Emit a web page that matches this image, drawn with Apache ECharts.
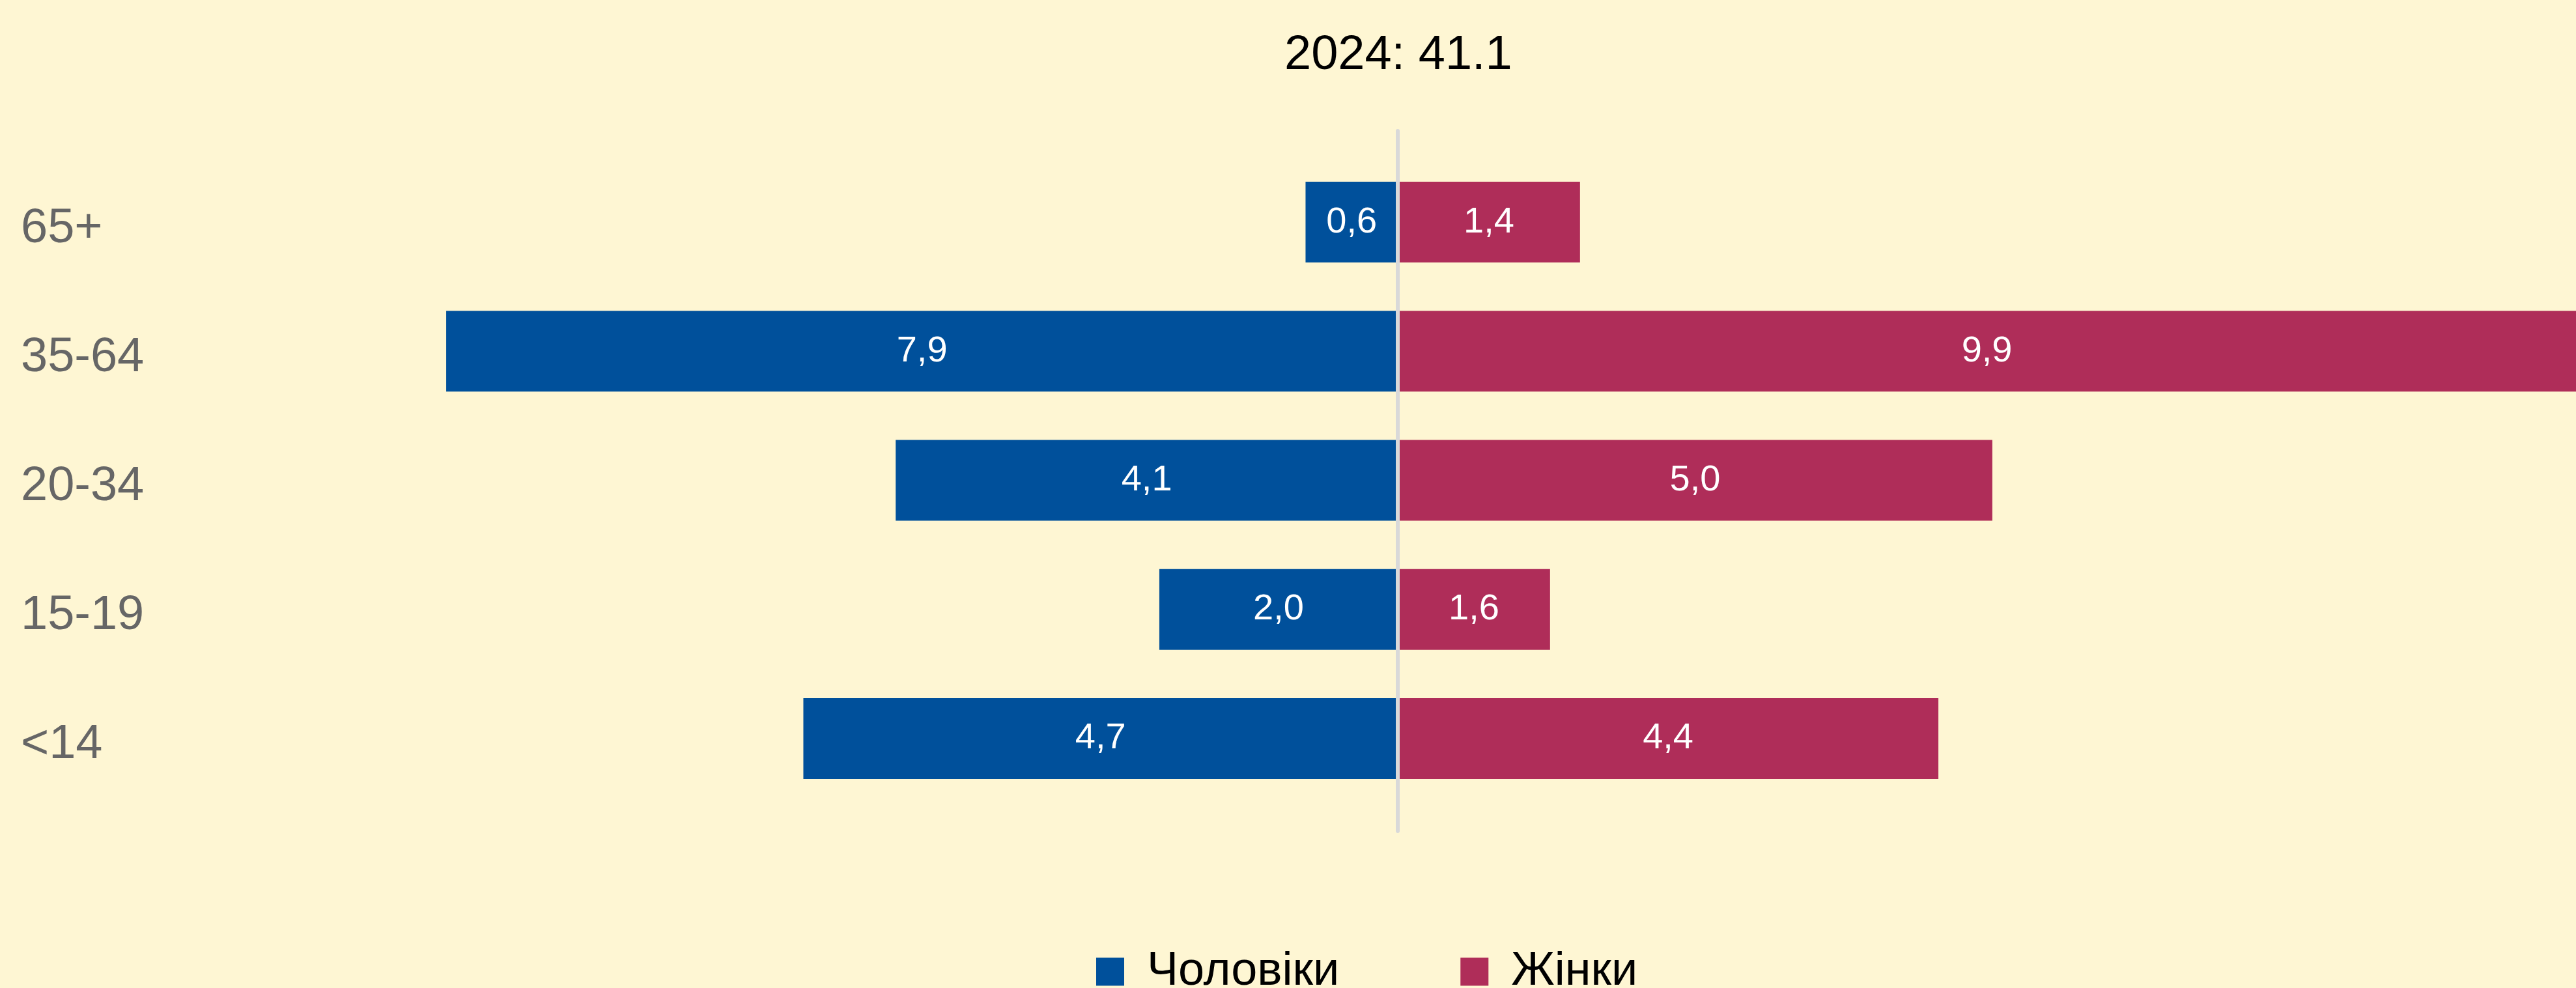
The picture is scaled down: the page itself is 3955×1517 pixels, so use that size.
<!DOCTYPE html>
<html>
<head>
<meta charset="utf-8">
<script src="https://cdn.jsdelivr.net/npm/echarts@6/dist/echarts.min.js"></script>
<style>
  html, body { margin: 0; padding: 0; background: #fef6d3; }
  #chart { width: 3955px; height: 1517px; }
</style>
</head>
<body>
<div id="chart"></div>
<script>
// вікові групи (знизу вгору)
const categories = ['<14', '15-19', '20-34', '35-64', '65+']
// довжини смуг, як їх видно на малюнку
const men = [4.96, 1.99, 4.19, 7.94, 0.77]
const women = [4.51, 1.27, 4.96, 9.9, 1.52]
// підписи всередині смуг
const menLabels = ['4,7', '2,0', '4,1', '7,9', '0,6']
const womenLabels = ['4,4', '1,6', '5,0', '9,9', '1,4']
const titleText = '2024: 41.1'
const seriesNames = ['Чоловіки', 'Жінки']

const font = "'Liberation Sans', Arial, sans-serif"

const myChart = echarts.init(document.getElementById('chart'))
const options = {
  backgroundColor: '#fef6d3',
  title: {
    text: titleText,
    left: 1972,
    top: 49,
    padding: 0,
    textStyle: { fontFamily: font, fontSize: 74, fontWeight: 'normal', color: '#000' }
  },
  legend: {
    data: seriesNames,
    left: 1683,
    top: 1456,
    padding: 0,
    icon: 'rect',
    itemWidth: 43,
    itemHeight: 43,
    itemGap: 186,
    textStyle: { fontFamily: font, fontSize: 72, color: '#000', padding: [0, 0, 0, 30] }
  },
  grid: [
    // смуги (права межа = край полотна, довга смуга обрізається)
    { left: 306, right: 0, top: 242, bottom: 284, containLabel: false },
    // вертикальна лінія нуля, трохи довша за смуги
    { left: 306, right: 0, top: 201, bottom: 241, containLabel: false }
  ],
  xAxis: [
    { gridIndex: 0, type: 'value', min: -10, max: 9.83, show: false },
    { gridIndex: 1, type: 'value', min: -10, max: 9.83, show: false }
  ],
  yAxis: [
    {
      gridIndex: 0,
      type: 'category',
      data: categories,
      axisLine: { show: false, onZero: false },
      axisTick: { show: false },
      axisLabel: {
        margin: 274,
        align: 'left',
        formatter: v => '{a|' + v + '}',
        rich: {
          a: {
            padding: [20, 0, 0, 0],
            fontFamily: font,
            fontSize: 74,
            color: '#666'
          }
        }
      }
    },
    {
      gridIndex: 1,
      type: 'value',
      z: 10,
      axisLine: { show: true, onZero: true, lineStyle: { color: '#d9d9d9', width: 6 } },
      axisTick: { show: false },
      axisLabel: { show: false },
      splitLine: { show: false }
    }
  ],
  series: [
    {
      name: seriesNames[0],
      type: 'bar',
      stack: 'total',
      barWidth: 124,
      itemStyle: { color: '#00509b' },
      label: {
        show: true,
        position: 'inside',
        color: '#fff',
        fontFamily: font,
        fontSize: 56,
        formatter: p => menLabels[p.dataIndex]
      },
      data: men.map(v => -v)
    },
    {
      name: seriesNames[1],
      type: 'bar',
      stack: 'total',
      barWidth: 124,
      itemStyle: { color: '#af2d59' },
      label: {
        show: true,
        position: 'inside',
        color: '#fff',
        fontFamily: font,
        fontSize: 56,
        formatter: p => womenLabels[p.dataIndex]
      },
      data: women
    }
  ]
}
myChart.setOption(options, true)
</script>
</body>
</html>
